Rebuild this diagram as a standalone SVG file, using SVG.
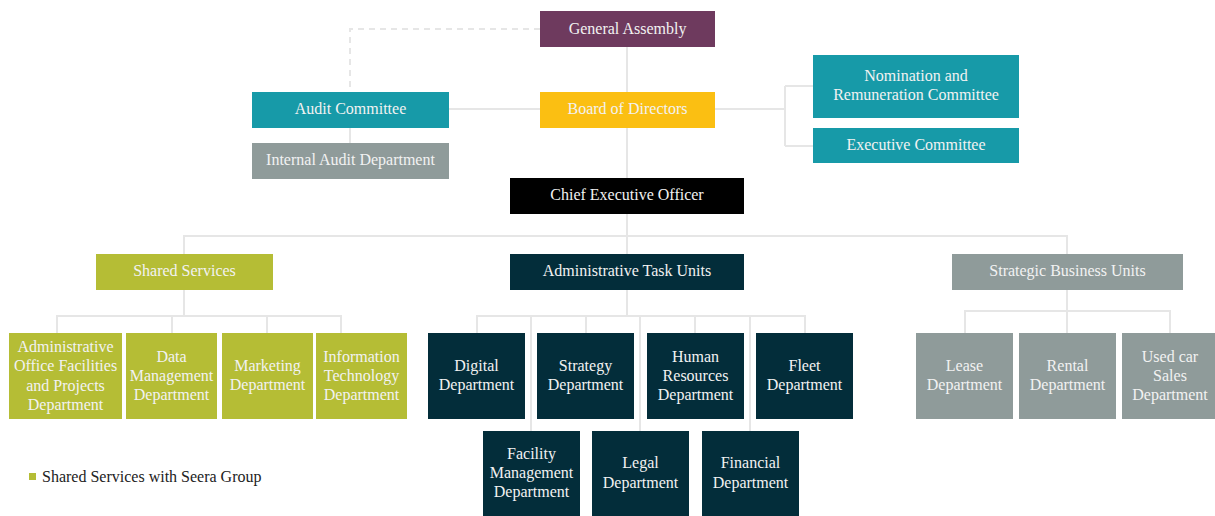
<svg xmlns="http://www.w3.org/2000/svg" width="1215" height="516" viewBox="0 0 1215 516" font-family="'Liberation Serif', 'Times New Roman', serif">
<style>
text{font-size:16px;fill:#f2f2f2;text-anchor:middle}
.ln{fill:none;stroke:#e6e6e6;stroke-width:2}
.dash{fill:none;stroke:#e6e6e6;stroke-width:2;stroke-dasharray:6 5}
.purple{fill:#6e3a5e}.teal{fill:#179aa8}.yellow{fill:#fbbf12}.grey{fill:#8f9b9a}.black{fill:#000}.olive{fill:#b5bd35}.navy{fill:#032d3a}
.legend{fill:#222;text-anchor:start}
</style>
<rect width="1215" height="516" fill="#fff"/>
<g id="connectors">
<path class="dash" d="M540,29 H350 V92"/>
<path class="ln" d="M627,47 V92 M627,128 V178 M627,214 V254"/>
<path class="ln" d="M449,109 H540"/>
<path class="ln" d="M350,128 V143"/>
<path class="ln" d="M715,109 H785 M785,86 V146 M785,86 H813 M785,146 H813"/>
<path class="ln" d="M184,254 V236 H1067 V254"/>
<path class="ln" d="M184,290 V316 M57,333 V316 H341 V333 M172,316 V333 M267,316 V333"/>
<path class="ln" d="M627,290 V316 M477,333 V316 H805 V333 M531,316 V431 M586,316 V333 M640,316 V431 M695,316 V333 M750,316 V431"/>
<path class="ln" d="M1067,290 V333 M965,333 V311 H1170 V333"/>
</g>
<g id="general-assembly"><rect class="purple" x="540" y="11" width="175" height="36"/><text x="627.5" y="33.5">General Assembly</text></g>
<g id="audit-committee"><rect class="teal" x="252" y="92" width="197" height="36"/><text x="350.5" y="113.5">Audit Committee</text></g>
<g id="board"><rect class="yellow" x="540" y="92" width="175" height="36"/><text x="627.5" y="113.5">Board of Directors</text></g>
<g id="internal-audit"><rect class="grey" x="252" y="143" width="197" height="36"/><text x="350.5" y="164.5">Internal Audit Department</text></g>
<g id="nomination"><rect class="teal" x="813" y="55" width="206" height="63"/><text x="916" y="80.5">Nomination and</text><text x="916" y="99.5">Remuneration Committee</text></g>
<g id="executive-committee"><rect class="teal" x="813" y="128" width="206" height="35"/><text x="916" y="149.5">Executive Committee</text></g>
<g id="ceo"><rect class="black" x="510" y="178" width="234" height="36"/><text x="627" y="199.5">Chief Executive Officer</text></g>
<g id="shared-services"><rect class="olive" x="96" y="254" width="177" height="36"/><text x="184.5" y="275.5">Shared Services</text></g>
<g id="admin-task-units"><rect class="navy" x="510" y="254" width="234" height="36"/><text x="627" y="275.5">Administrative Task Units</text></g>
<g id="strategic-units"><rect class="grey" x="952" y="254" width="231" height="36"/><text x="1067.5" y="275.5">Strategic Business Units</text></g>
<g id="admin-office"><rect class="olive" x="9" y="333" width="113" height="86"/><text x="65.5" y="352">Administrative</text><text x="65.5" y="371">Office Facilities</text><text x="65.5" y="390.5">and Projects</text><text x="65.5" y="409.5">Department</text></g>
<g id="data-management"><rect class="olive" x="126" y="333" width="91" height="86"/><text x="171.5" y="361.5">Data</text><text x="171.5" y="380.5">Management</text><text x="171.5" y="399.5">Department</text></g>
<g id="marketing"><rect class="olive" x="222" y="333" width="91" height="86"/><text x="267.5" y="370.5">Marketing</text><text x="267.5" y="389.5">Department</text></g>
<g id="it"><rect class="olive" x="316" y="333" width="91" height="86"/><text x="361.5" y="361.5">Information</text><text x="361.5" y="380.5">Technology</text><text x="361.5" y="399.5">Department</text></g>
<g id="digital"><rect class="navy" x="428" y="333" width="97" height="86"/><text x="476.5" y="370.5">Digital</text><text x="476.5" y="389.5">Department</text></g>
<g id="strategy"><rect class="navy" x="537" y="333" width="97" height="86"/><text x="585.5" y="370.5">Strategy</text><text x="585.5" y="389.5">Department</text></g>
<g id="hr"><rect class="navy" x="647" y="333" width="97" height="86"/><text x="695.5" y="361.5">Human</text><text x="695.5" y="380.5">Resources</text><text x="695.5" y="399.5">Department</text></g>
<g id="fleet"><rect class="navy" x="756" y="333" width="97" height="86"/><text x="804.5" y="370.5">Fleet</text><text x="804.5" y="389.5">Department</text></g>
<g id="facility"><rect class="navy" x="483" y="431" width="97" height="86"/><text x="531.5" y="459">Facility</text><text x="531.5" y="478">Management</text><text x="531.5" y="497">Department</text></g>
<g id="legal"><rect class="navy" x="592" y="431" width="97" height="86"/><text x="640.5" y="468">Legal</text><text x="640.5" y="488">Department</text></g>
<g id="financial"><rect class="navy" x="702" y="431" width="97" height="86"/><text x="750.5" y="468">Financial</text><text x="750.5" y="488">Department</text></g>
<g id="lease"><rect class="grey" x="916" y="333" width="97" height="86"/><text x="964.5" y="370.5">Lease</text><text x="964.5" y="389.5">Department</text></g>
<g id="rental"><rect class="grey" x="1019" y="333" width="97" height="86"/><text x="1067.5" y="370.5">Rental</text><text x="1067.5" y="389.5">Department</text></g>
<g id="used-car"><rect class="grey" x="1122" y="333" width="93" height="86"/><text x="1170" y="361.5">Used car</text><text x="1170" y="380.5">Sales</text><text x="1170" y="399.5">Department</text></g>
<g id="legend"><rect class="olive" x="29" y="473" width="7" height="7"/><text class="legend" x="42" y="481.5">Shared Services with Seera Group</text></g>
</svg>
